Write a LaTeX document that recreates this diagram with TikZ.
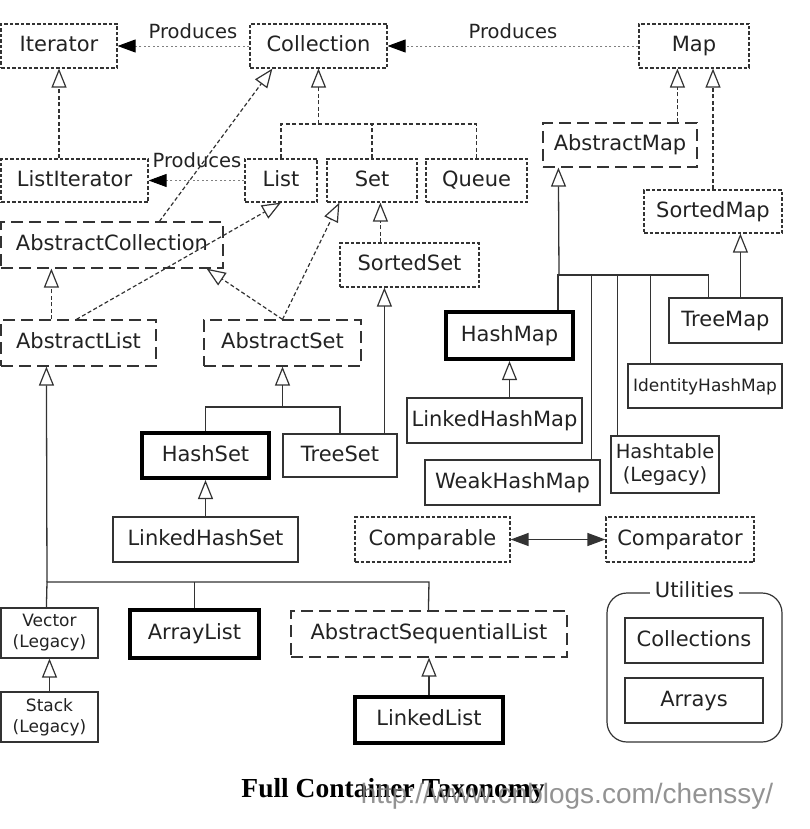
\documentclass[tikz,border=0pt]{standalone}
\usepackage{fontspec}
\setmainfont{DejaVu Sans}
\newfontfamily\capfont{Liberation Serif}
\newfontfamily\wmfont{Liberation Sans}
\usetikzlibrary{arrows.meta,calc}
\definecolor{txt}{HTML}{222222}
\definecolor{ln}{HTML}{333333}
\newcommand\mybox[7]{\node[#1, minimum width={#5-#3}, minimum height={#6-#4}] (#2) at ({(#3+#5)/2},{(#4+#6)/2}) {#7};}
\begin{document}
\begin{tikzpicture}[x=1pt,y=-1pt,
  base/.style={inner sep=0pt, text=txt, font=\fontsize{21}{24}\selectfont, align=center, text height=15pt, text depth=4pt},
  two/.style={text height={}, text depth={}},
  small/.style={font=\fontsize{17}{21}\selectfont},
  mid/.style={font=\fontsize{19.5}{23}\selectfont},
  iface/.style={base, draw=ln, line width=1.2pt, dash pattern=on 3.5pt off 2pt},
  abst/.style={base, draw=ln, line width=1.2pt, dash pattern=on 12pt off 6pt},
  conc/.style={base, draw=ln, line width=1.2pt},
  keybox/.style={base, draw=black, line width=4pt},
  inh/.style={-{Triangle[open, length=19pt, width=15pt, line width=1.2pt]}},
  idash/.style={draw=ln, line width=1.2pt, dash pattern=on 4pt off 2.5pt},
  sline/.style={draw=ln, line width=1.3pt},
  prod/.style={draw=gray, line width=0.9pt, dash pattern=on 2pt off 2.5pt, -{Triangle[length=18pt, width=13pt, color=black]}},
  plabel/.style={text=txt, font=\fontsize{19.5}{23}\selectfont, inner sep=0pt}
]
\useasboundingbox (0,0) rectangle (810,829);

% interfaces
\mybox{iface}{Iterator}{1}{24}{117}{68}{Iterator}
\mybox{iface}{Collection}{250}{24}{387}{68}{Collection}
\mybox{iface}{Map}{639}{24}{749}{68}{Map}
\mybox{iface}{ListIterator}{1}{159}{148}{202}{ListIterator}
\mybox{iface}{List}{245}{159}{317}{202}{List}
\mybox{iface}{Set}{327}{159}{417}{202}{Set}
\mybox{iface}{Queue}{426}{159}{527}{202}{Queue}
\mybox{iface}{SortedMap}{644}{190}{782}{233}{SortedMap}
\mybox{iface}{SortedSet}{340}{243}{479}{287}{SortedSet}
\mybox{iface}{Comparable}{355}{517}{510}{562}{Comparable}
\mybox{iface}{Comparator}{606}{517}{754}{562}{Comparator}

% abstract classes
\mybox{abst}{AbstractMap}{543}{123}{697}{167}{AbstractMap}
\mybox{abst}{AbstractCollection}{1}{222}{223}{268}{AbstractCollection}
\mybox{abst}{AbstractList}{1}{320}{156}{366}{AbstractList}
\mybox{abst}{AbstractSet}{204}{320}{361}{366}{AbstractSet}
\mybox{abst}{AbstractSequentialList}{291}{611}{567}{657}{AbstractSequentialList}

% concrete classes
\mybox{keybox}{HashMap}{446}{312}{573}{359}{HashMap}
\mybox{conc}{TreeMap}{669}{298}{782}{343}{TreeMap}
\mybox{conc,small}{IdentityHashMap}{628}{364}{782}{408}{IdentityHashMap}
\mybox{conc}{LinkedHashMap}{407}{398}{582}{443}{LinkedHashMap}
\mybox{keybox}{HashSet}{142}{433}{269}{478}{HashSet}
\mybox{conc}{TreeSet}{283}{434}{397}{477}{TreeSet}
\mybox{conc,mid,two}{Hashtable}{611}{436}{719}{493}{Hashtable\\(Legacy)}
\mybox{conc}{WeakHashMap}{425}{460}{600}{505}{WeakHashMap}
\mybox{conc}{LinkedHashSet}{113}{517}{298}{562}{LinkedHashSet}
\mybox{conc,small,two}{Vector}{1}{608}{98}{658}{Vector\\(Legacy)}
\mybox{keybox}{ArrayList}{130}{610}{259}{658}{ArrayList}
\mybox{conc,small,two}{Stack}{1}{692}{98}{742}{Stack\\(Legacy)}
\mybox{keybox}{LinkedList}{355}{697}{503}{743}{LinkedList}

% utilities
\node[draw=ln, line width=1.2pt, rounded corners=20pt, minimum width=175pt, minimum height=149pt, inner sep=0pt] (Utilities) at (694.5,667.5) {};
\node[base, fill=white, inner xsep=5pt] (UtilLabel) at (Utilities.north) {Utilities};
\mybox{conc}{Collections}{625}{618}{763}{663}{Collections}
\mybox{conc}{Arrays}{625}{678}{763}{723}{Arrays}

% produces
\draw[prod] (Collection.west) -- (Iterator.east);
\draw[prod] (Map.west) -- (Collection.east);
\draw[prod] (List.west) -- (ListIterator.east);
\node[plabel] (p1) at (193,31) {Produces};
\node[plabel] (p2) at (513,31) {Produces};
\node[plabel] (p3) at (197,160) {Produces};

% interface hierarchy
\draw[idash, inh] (ListIterator.north -| Iterator.south) -- (Iterator.south);
\coordinate (cbr) at (318.5,124);
\draw[idash] (List.north) |- (cbr) -| (Queue.north);
\draw[idash] (Set.north) -- (Set.north |- cbr);
\draw[idash, inh] (cbr) -- (Collection.south);
\draw[idash, inh] ([xshift=159pt]AbstractCollection.north west) -- ([xshift=23pt]Collection.south west);
\draw[idash, inh] ([xshift=76pt]AbstractList.north west) -- (List.south);
\draw[idash, inh] ([xshift=51pt]AbstractList.north west) -- ([xshift=51pt]AbstractCollection.south west);
\draw[idash, inh] (AbstractSet.north) -- ([xshift=-17pt]AbstractCollection.south east);
\draw[idash, inh] (AbstractSet.north) -- ([xshift=13pt]Set.south west);
\draw[idash, inh] ([xshift=41pt]SortedSet.north west) -- ([xshift=54pt]Set.south west);
\draw[idash, inh] ([xshift=135pt]AbstractMap.north west) -- ([xshift=135pt]AbstractMap.north west |- Map.south);
\draw[idash, inh] (SortedMap.north) -- (SortedMap.north |- Map.south);

% set classes
\coordinate (asb) at (282.5,407);
\draw[sline] (HashSet.north) |- (asb) -| (TreeSet.north);
\draw[sline, inh] (asb) -- (AbstractSet.south);
\draw[sline, inh] ([xshift=102pt]TreeSet.north west) -- ([xshift=45pt]SortedSet.south west);
\draw[sline, inh] (LinkedHashSet.north) -- (HashSet.south);

% map classes
\coordinate (amb) at (559,275);
\draw[sline, inh] (amb) -- ([xshift=16pt]AbstractMap.south west);
\draw[sline] (amb) -| ([xshift=114pt]HashMap.north west);
\draw[sline] (amb) -| ([xshift=40pt]TreeMap.north west);
\draw[sline] (amb) -| ([xshift=167pt]WeakHashMap.north west);
\draw[sline] (amb) -| ([xshift=7pt]Hashtable.north west);
\draw[sline] (amb) -| ([xshift=23pt]IdentityHashMap.north west);
\draw[sline, inh] ([xshift=72pt]TreeMap.north west) -- ([xshift=97pt]SortedMap.south west);
\draw[sline, inh] (LinkedHashMap.north -| HashMap.south) -- (HashMap.south);

% comparable
\draw[sline, {Triangle[length=18pt, width=13pt]}-{Triangle[length=18pt, width=13pt]}] (Comparable.east) -- (Comparator.west);

% list classes
\coordinate (alb) at (47,582);
\coordinate (asr) at (429,582);
\draw[sline, inh] (alb) -- ([xshift=46pt]AbstractList.south west);
\draw[sline] ([xshift=46pt]Vector.north west) -- (alb) -- (asr) -- ([xshift=138pt]AbstractSequentialList.north west);
\draw[sline] (ArrayList.north) -- (ArrayList.north |- alb);
\draw[sline, inh] (Stack.north) -- (Vector.south);
\draw[sline, inh] (LinkedList.north) -- (LinkedList.north |- AbstractSequentialList.south);

% caption
\node[inner sep=0pt, font=\capfont\bfseries\fontsize{27.5}{30}\selectfont] (caption) at (393,791) {Full Container Taxonomy};
\node[inner sep=0pt, text=gray, opacity=0.85, font=\wmfont\fontsize{28}{32}\selectfont] (watermark) at (567,796) {http://www.cnblogs.com/chenssy/};
\end{tikzpicture}
\end{document}
